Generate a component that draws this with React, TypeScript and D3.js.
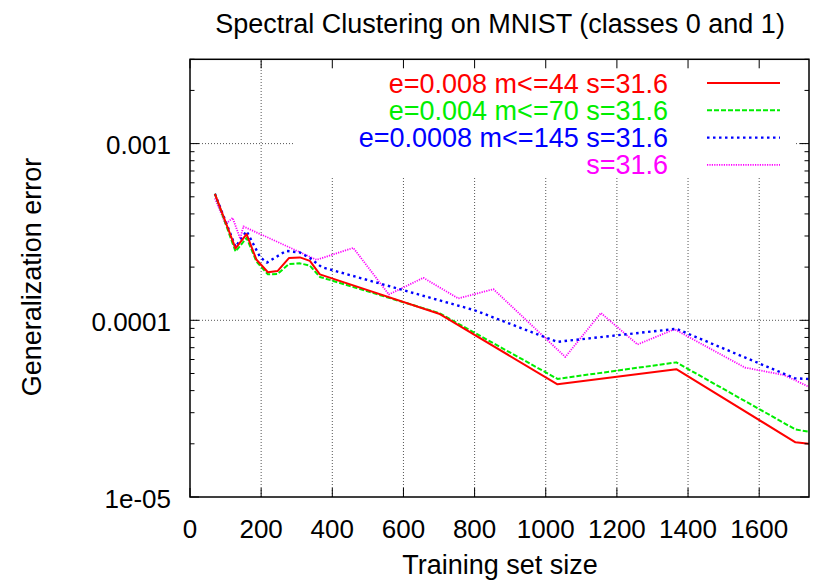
import React from "react";
import * as d3 from "d3";

const TITLE = "Spectral Clustering on MNIST (classes 0 and 1)";
const X_LABEL = "Training set size";
const Y_LABEL = "Generalization error";

const X_TICKS = [0, 200, 400, 600, 800, 1000, 1200, 1400, 1600];
const Y_TICKS = [1e-5, 1e-4, 1e-3];
const Y_TICK_LABELS = ["1e-05", "0.0001", "0.001"];

const redX = [70, 128, 159, 187, 219, 246, 278, 309, 337, 365, 700, 1033, 1367, 1702, 1740];
const redY = [5.2e-4, 2.55e-4, 3.07e-4, 2.2e-4, 1.87e-4, 1.9e-4, 2.25e-4, 2.27e-4, 2.17e-4, 1.82e-4, 1.09e-4, 4.34e-5, 5.29e-5, 2.04e-5, 2.0e-5];

const greenX = [70, 128, 159, 187, 219, 246, 278, 309, 337, 365, 700, 1033, 1367, 1702, 1740];
const greenY = [5.2e-4, 2.45e-4, 2.93e-4, 2.15e-4, 1.82e-4, 1.83e-4, 2.08e-4, 2.1e-4, 2.04e-4, 1.76e-4, 1.1e-4, 4.66e-5, 5.78e-5, 2.41e-5, 2.34e-5];

const blueX = [70, 128, 159, 197, 216, 270, 309, 337, 370, 800, 1032, 1367, 1700, 1740];
const blueY = [5.2e-4, 2.6e-4, 3.2e-4, 2.28e-4, 2.12e-4, 2.47e-4, 2.42e-4, 2.25e-4, 2.0e-4, 1.14e-4, 7.55e-5, 8.95e-5, 4.7e-5, 4.65e-5];

const magentaX = [70, 100, 120, 141, 150, 356, 459, 559, 656, 754, 853, 1055, 1155, 1258, 1362, 1560, 1670, 1740];
const magentaY = [4.9e-4, 3.5e-4, 3.8e-4, 2.9e-4, 3.4e-4, 2.2e-4, 2.57e-4, 1.4e-4, 1.74e-4, 1.33e-4, 1.5e-4, 6.2e-5, 1.1e-4, 7.3e-5, 8.9e-5, 5.4e-5, 4.9e-5, 4.2e-5];

const SERIES_LABELS = ["e=0.008 m<=44 s=31.6", "e=0.004 m<=70 s=31.6", "e=0.0008 m<=145 s=31.6", "s=31.6"];

const series = [
  { label: SERIES_LABELS[0], xs: redX, ys: redY, color: "#ff0000", dash: "none", width: 2 },
  { label: SERIES_LABELS[1], xs: greenX, ys: greenY, color: "#00ee00", dash: "5,2", width: 2 },
  { label: SERIES_LABELS[2], xs: blueX, ys: blueY, color: "#0000ff", dash: "2.5,3.5", width: 2.4 },
  { label: SERIES_LABELS[3], xs: magentaX, ys: magentaY, color: "#ff00ff", dash: "1.2,1.2", width: 1.8 },
];

const W = 814;
const H = 581;
const L = 190;
const R = 809;
const T = 59.3;
const B = 497;
const FONT = "'Liberation Sans', Arial, Helvetica, sans-serif";

export default function App() {
  const x = d3.scaleLinear().domain([0, 1740]).range([L, R]);
  const y = d3.scaleLog().domain([1e-5, 3e-3]).range([B, T]);

  const minor: number[] = [];
  [1e-5, 1e-4, 1e-3].forEach((d) => {
    for (let k = 2; k <= 9; k++) {
      const v = d * k;
      if (v <= 3e-3) minor.push(v);
    }
  });

  const line = d3
    .line<[number, number]>()
    .x((d) => x(d[0]))
    .y((d) => y(d[1]));

  const legendRight = 668;
  const legendRow0 = 83;
  const rowH = 27.3;

  return (
    <svg
      width={W}
      height={H}
      style={{ position: "absolute", left: 0, top: 0, background: "#fff" }}
      fontFamily={FONT}
    >
      <rect x={0} y={0} width={W} height={H} fill="#fff" />
      <defs>
        <clipPath id="plotclip">
          <rect x={L} y={T} width={R - L} height={B - T} />
        </clipPath>
      </defs>
      {/* grid */}
      <g stroke="#555" strokeWidth={1} strokeDasharray="1,2">
        {X_TICKS.filter((t) => t > 0).map((t) => (
          <line key={"gx" + t} x1={x(t)} x2={x(t)} y1={B} y2={T} />
        ))}
        {Y_TICKS.filter((t) => t > 1e-5).map((t) => (
          <line key={"gy" + t} x1={L} x2={R} y1={y(t)} y2={y(t)} />
        ))}
      </g>
      {/* legend opaque area */}
      <rect x={295} y={T + 1} width={794 - 295} height={177 - T - 1} fill="#fff" />
      {/* data */}
      <g clipPath="url(#plotclip)" fill="none">
        {series
          .slice()
          .reverse()
          .map((s, i) => (
            <path
              key={"s" + i}
              d={line(s.xs.map((v, j) => [v, s.ys[j]] as [number, number])) || ""}
              stroke={s.color}
              strokeWidth={s.width}
              strokeDasharray={s.dash}
              strokeLinejoin="round"
            />
          ))}
      </g>
      {/* legend */}
      {series.map((s, i) => {
        const cy = legendRow0 + i * rowH;
        return (
          <g key={"lg" + i}>
            <text
              x={legendRight}
              y={cy + 9.5}
              textAnchor="end"
              fontSize={27}
              fill={s.color}
            >
              {s.label}
            </text>
            <line
              x1={707}
              x2={780}
              y1={cy}
              y2={cy}
              stroke={s.color}
              strokeWidth={s.width}
              strokeDasharray={s.dash}
            />
          </g>
        );
      })}
      {/* frame */}
      <rect x={L} y={T} width={R - L} height={B - T} fill="none" stroke="#000" strokeWidth={1.5} />
      {/* x ticks */}
      <g stroke="#000" strokeWidth={1}>
        {X_TICKS.map((t) => (
          <g key={"xt" + t}>
            <line x1={x(t)} x2={x(t)} y1={B} y2={B - 9} />
            <line x1={x(t)} x2={x(t)} y1={T} y2={T + 9} />
          </g>
        ))}
        {Y_TICKS.map((t) => (
          <g key={"yt" + t}>
            <line x1={L} x2={L + 9} y1={y(t)} y2={y(t)} />
            <line x1={R} x2={R - 9} y1={y(t)} y2={y(t)} />
          </g>
        ))}
        {minor.map((t) => (
          <g key={"ym" + t}>
            <line x1={L} x2={L + 4.5} y1={y(t)} y2={y(t)} />
            <line x1={R} x2={R - 4.5} y1={y(t)} y2={y(t)} />
          </g>
        ))}
      </g>
      {/* tick labels */}
      <g fontSize={26} fill="#000">
        {X_TICKS.map((t) => (
          <text key={"xl" + t} x={x(t)} y={538} textAnchor="middle">
            {String(t)}
          </text>
        ))}
        {Y_TICKS.map((t, i) => (
          <text key={"yl" + t} x={171} y={y(t) + 10.5} textAnchor="end">
            {Y_TICK_LABELS[i]}
          </text>
        ))}
      </g>
      {/* labels */}
      <text x={500} y={33} textAnchor="middle" fontSize={27} fill="#000">
        {TITLE}
      </text>
      <text x={500} y={574} textAnchor="middle" fontSize={27} fill="#000">
        {X_LABEL}
      </text>
      <text
        transform="translate(41,277) rotate(-90)"
        textAnchor="middle"
        fontSize={27}
        fill="#000"
      >
        {Y_LABEL}
      </text>
    </svg>
  );
}
